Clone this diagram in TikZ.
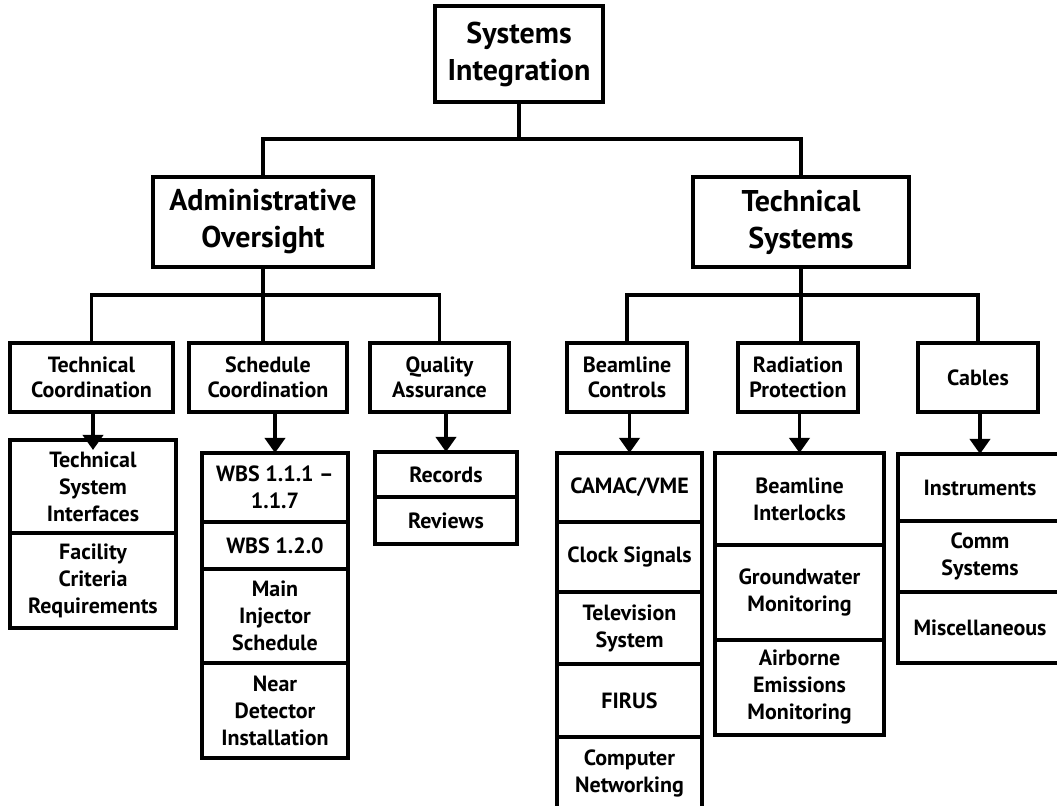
\documentclass[tikz,border=0pt]{standalone}
\usepackage{fontspec}
\setmainfont{PT Sans}
\usetikzlibrary{arrows.meta,positioning}

\begin{document}
\begin{tikzpicture}[
    x=0.5pt, y=-0.5pt,
    node distance=0pt,
    head/.style={draw, line width=1.8pt, outer sep=0pt, inner sep=0pt, align=center,
      font=\bfseries\fontsize{15}{18.5}\selectfont},
    group/.style={draw, line width=1.8pt, outer sep=0pt, inner sep=0pt, align=center,
      minimum width=#1, minimum height=34.5pt, font=\bfseries\fontsize{11}{12.5}\selectfont},
    cell/.style={draw, line width=1.8pt, outer sep=0pt, inner sep=0pt, align=center,
      minimum width=#1, font=\bfseries\fontsize{11}{13.5}\selectfont},
    link/.style={line width=1.8pt},
    arrow/.style={-{Triangle[length=7.5pt, width=10pt]}, line width=1.8pt}
  ]
    \path[use as bounding box, fill=white] (0,0) rectangle (1057,806);

    % top levels
    \node[head, minimum width=84pt, minimum height=48pt] (top) at (519,54) {Systems\\Integration};
    \node[head, minimum width=110pt, minimum height=45pt] (admin) at (263,222) {Administrative\\Oversight};
    \node[head, minimum width=108pt, minimum height=45pt] (tech) at (801,222) {Technical\\Systems};

    \node[group=81.5pt] (techco) at (91.5,377.5) {Technical\\Coordination};
    \node[group=79pt] (sched) at (268,377.5) {Schedule\\Coordination};
    \node[group=69.5pt] (qa) at (439.5,377.5) {Quality\\Assurance};
    \node[group=60pt] (beam) at (627,377.5) {Beamline\\Controls};
    \node[group=60pt] (rad) at (798,377.5) {Radiation\\Protection};
    \node[group=60pt] (cables) at (978,377.5) {Cables};

    % stacks under each group
    \node[cell=83pt, minimum height=46.5pt, anchor=north] (tsi) at (93,440) {Technical\\System\\Interfaces};
    \node[cell=83pt, minimum height=47.5pt, below=of tsi] (fcr) {Facility\\Criteria\\Requirements};

    \node[cell=73pt, minimum height=34.5pt, anchor=north] (wbsa) at (275,453) {WBS 1.1.1 –\\1.1.7};
    \node[cell=73pt, minimum height=23.5pt, below=of wbsa] (wbsb) {WBS 1.2.0};
    \node[cell=73pt, minimum height=47pt, below=of wbsb] (mis) {Main\\Injector\\Schedule};
    \node[cell=73pt, minimum height=47.5pt, below=of mis] (ndi) {Near\\Detector\\Installation};

    \node[cell=71pt, minimum height=22.5pt, anchor=north] (rec) at (446,452) {Records};
    \node[cell=71pt, minimum height=23.5pt, below=of rec] (rev) {Reviews};

    \node[cell=72.5pt, minimum height=34.5pt, anchor=north] (camac) at (629.5,453) {CAMAC/VME};
    \node[cell=72.5pt, minimum height=35pt, below=of camac] (clock) {Clock Signals};
    \node[cell=72.5pt, minimum height=36pt, below=of clock] (tv) {Television\\System};
    \node[cell=72.5pt, minimum height=36.5pt, below=of tv] (firus) {FIRUS};
    \node[cell=72.5pt, minimum height=36.5pt, below=of firus] (net) {Computer\\Networking};

    \node[cell=84.5pt, minimum height=46pt, anchor=north] (blint) at (799.5,453) {Beamline\\Interlocks};
    \node[cell=84.5pt, minimum height=47.5pt, below=of blint] (gwm) {Groundwater\\Monitoring};
    \node[cell=84.5pt, minimum height=47.5pt, below=of gwm] (aem) {Airborne\\Emissions\\Monitoring};

    \node[cell=82pt, minimum height=33.5pt, anchor=north] (instr) at (980,454) {Instruments};
    \node[cell=82pt, minimum height=35.5pt, below=of instr] (comm) {Comm\\Systems};
    \node[cell=82pt, minimum height=35.5pt, below=of comm] (misc) {Miscellaneous};

    % tree lines
    \coordinate (topbar) at (519,139);
    \coordinate (abar) at (263,295);
    \coordinate (tbar) at (801,295);
    \draw[link] (top.south) -- (topbar);
    \draw[link] (admin.north) |- (topbar) -| (tech.north);
    \draw[link] (admin.south) -- (admin.south |- sched.north);
    \draw[link] (techco.north) |- (abar) -| (qa.north);
    \draw[link] (tech.south) -- (tech.south |- rad.north);
    \draw[link] (beam.north) |- (tbar) -| (cables.north);

    % arrows down to the stacks
    \draw[arrow, shorten >=-5pt] (tsi.north |- techco.south) -- (tsi.north);
    \draw[arrow] (wbsa.north |- sched.south) -- (wbsa.north);
    \draw[arrow] (rec.north |- qa.south) -- (rec.north);
    \draw[arrow] (camac.north |- beam.south) -- (camac.north);
    \draw[arrow] (blint.north |- rad.south) -- (blint.north);
    \draw[arrow] (instr.north |- cables.south) -- (instr.north);
  \end{tikzpicture}
\end{document}
